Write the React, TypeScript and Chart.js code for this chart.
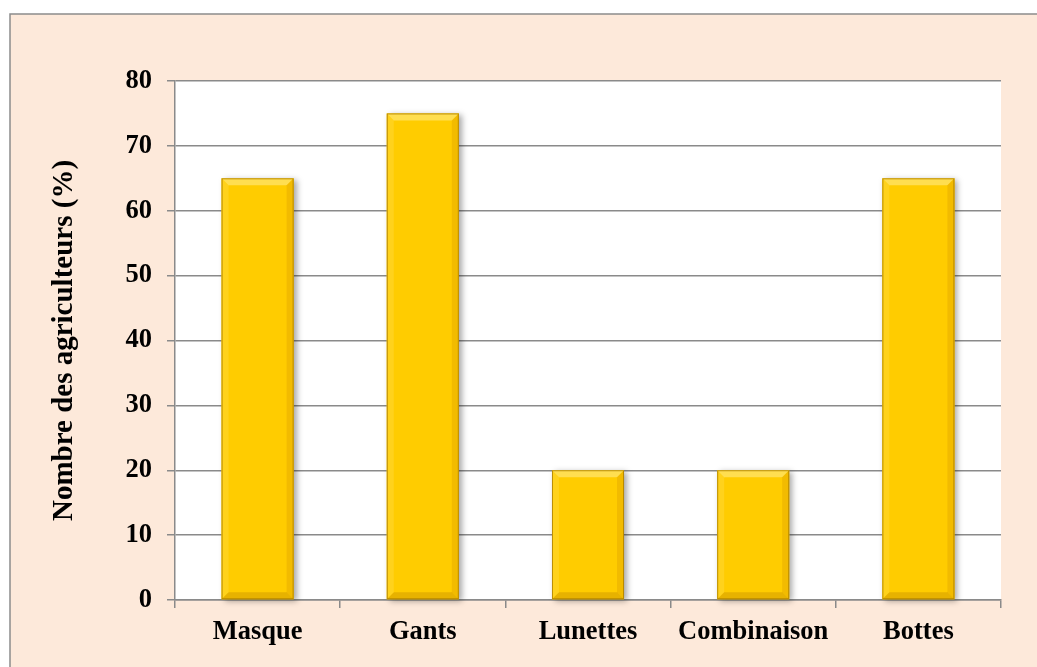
import React, { useEffect, useRef } from "react";
import { Chart, registerables } from "chart.js";

Chart.register(...registerables);

const categories: string[] = ["Masque", "Gants", "Lunettes", "Combinaison", "Bottes"];
const values: number[] = [65, 75, 20, 20, 65];
const yMin = 0;
const yMax = 80;
const yStep = 10;

const FONT = "'Liberation Serif', 'Times New Roman', serif";

const backgroundPlugin = {
  id: "bgBox",
  beforeDraw(chart: any) {
    const { ctx, chartArea } = chart;
    ctx.save();
    ctx.fillStyle = "#ffffff";
    ctx.fillRect(0, 0, chart.width, chart.height);
    ctx.fillStyle = "#FDE9DA";
    ctx.fillRect(10, 14, chart.width, chart.height);
    ctx.strokeStyle = "#8c8c8c";
    ctx.lineWidth = 1.5;
    ctx.strokeRect(10, 14, chart.width + 10, chart.height + 10);
    ctx.fillStyle = "#ffffff";
    ctx.fillRect(chartArea.left, chartArea.top, chartArea.right - chartArea.left, chartArea.bottom - chartArea.top);
    ctx.restore();
  },
};

const bevelPlugin = {
  id: "bevel",
  beforeDatasetsDraw(chart: any) {
    const { ctx } = chart;
    const meta = chart.getDatasetMeta(0);
    ctx.save();
    meta.data.forEach((el: any) => {
      const p = el.getProps(["x", "y", "base", "width"], true);
      const l = p.x - p.width / 2;
      const t = Math.min(p.y, p.base);
      const h = Math.abs(p.base - p.y);
      ctx.shadowColor = "rgba(0,0,0,0.35)";
      ctx.shadowBlur = 6;
      ctx.shadowOffsetX = 3;
      ctx.shadowOffsetY = 2;
      ctx.fillStyle = "#FFCC00";
      ctx.fillRect(l, t, p.width, h);
    });
    ctx.restore();
  },
  afterDatasetsDraw(chart: any) {
    const { ctx } = chart;
    const meta = chart.getDatasetMeta(0);
    const b = 7;
    ctx.save();
    meta.data.forEach((el: any) => {
      const p = el.getProps(["x", "y", "base", "width"], true);
      const l = p.x - p.width / 2;
      const r = p.x + p.width / 2;
      const t = Math.min(p.y, p.base);
      const bt = Math.max(p.y, p.base);
      const poly = (pts: number[][], color: string) => {
        ctx.beginPath();
        ctx.moveTo(pts[0][0], pts[0][1]);
        for (let i = 1; i < pts.length; i++) ctx.lineTo(pts[i][0], pts[i][1]);
        ctx.closePath();
        ctx.fillStyle = color;
        ctx.fill();
      };
      poly([[l, t], [r, t], [r - b, t + b], [l + b, t + b]], "rgba(255,240,160,0.5)");
      poly([[l, t], [l + b, t + b], [l + b, bt - b], [l, bt]], "rgba(255,235,140,0.2)");
      poly([[r, t], [r, bt], [r - b, bt - b], [r - b, t + b]], "rgba(190,120,0,0.2)");
      poly([[l, bt], [l + b, bt - b], [r - b, bt - b], [r, bt]], "rgba(170,110,0,0.28)");
      ctx.strokeStyle = "rgba(170,125,0,0.8)";
      ctx.lineWidth = 1;
      ctx.strokeRect(l + 0.5, t + 0.5, r - l - 1, bt - t - 1);
    });
    ctx.restore();
  },
};

export default function App() {
  const ref = useRef<HTMLCanvasElement | null>(null);

  useEffect(() => {
    document.body.style.margin = "0";
    if (!ref.current) return;
    const chart = new Chart(ref.current, {
      type: "bar",
      data: {
        labels: categories,
        datasets: [
          {
            data: values,
            backgroundColor: "#FFCC00",
            borderWidth: 0,
            barPercentage: 0.436,
            categoryPercentage: 1,
          },
        ],
      },
      options: {
        responsive: false,
        animation: false,
        devicePixelRatio: 1,
        layout: { padding: { top: 81, right: 36, bottom: 0, left: 0 } },
        plugins: {
          legend: { display: false },
          tooltip: { enabled: false },
        },
        scales: {
          x: {
            afterFit(scale: any) {
              scale.height = 67;
            },
            grid: {
              offset: true,
              drawOnChartArea: false,
              drawTicks: true,
              tickLength: 8,
              color: "#8a8a8a",
              lineWidth: 1.5,
            },
            border: { display: true, color: "#8a8a8a", width: 1.5 },
            ticks: {
              color: "#000",
              padding: 8,
              font: { family: FONT, size: 26.5, weight: "bold" },
            },
          },
          y: {
            min: yMin,
            max: yMax,
            afterFit(scale: any) {
              scale.width = 175;
            },
            grid: {
              color: "#8a8a8a",
              lineWidth: 1.5,
              tickLength: 8,
            },
            border: { display: true, color: "#8a8a8a", width: 1.5 },
            ticks: {
              stepSize: yStep,
              color: "#000",
              padding: 15,
              font: { family: FONT, size: 26.5, weight: "bold" },
            },
            title: {
              display: true,
              text: "Nombre des agriculteurs (%)",
              color: "#000",
              padding: { top: 47, bottom: 0 },
              font: { family: FONT, size: 29, weight: "bold" },
            },
          },
        },
      },
      plugins: [backgroundPlugin, bevelPlugin],
    } as any);
    return () => chart.destroy();
  }, []);

  return (
    <div style={{ position: "fixed", left: 0, top: 0, width: 1037, height: 667 }}>
      <canvas ref={ref} width={1037} height={667} style={{ display: "block" }} />
    </div>
  );
}
